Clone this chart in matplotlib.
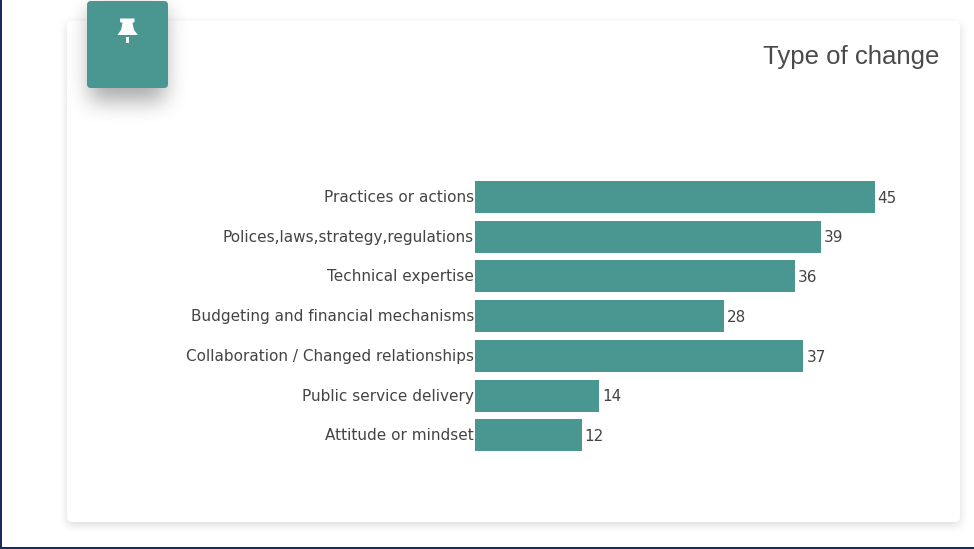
import numpy as np
import matplotlib
matplotlib.use("Agg")
import matplotlib.pyplot as plt
from matplotlib.patches import FancyBboxPatch, Rectangle, Polygon
from matplotlib.transforms import ScaledTranslation

categories = ["Practices or actions", "Polices,laws,strategy,regulations", "Technical expertise",
              "Budgeting and financial mechanisms", "Collaboration / Changed relationships",
              "Public service delivery", "Attitude or mindset"]
values = [45, 39, 36, 28, 37, 14, 12]
title = "Type of change"
TEAL = "#499790"
W, H = 974, 549

fig = plt.figure(figsize=(W / 100, H / 100), dpi=100, facecolor="white")

# page decoration, in pixel coordinates
bg = fig.add_axes([0, 0, 1, 1], zorder=0)
bg.set_xlim(0, W); bg.set_ylim(H, 0); bg.axis("off")

def rounded(x0, y0, x1, y1, r, **kw):
    p = FancyBboxPatch((x0 + r, y0 + r), x1 - x0 - 2 * r, y1 - y0 - 2 * r,
                       boxstyle=f"round,pad={r},rounding_size={r}", linewidth=0, **kw)
    bg.add_patch(p)

def shadow(x0, y0, x1, y1, blur, alpha, zorder):
    m = np.zeros((H, W))
    m[int(y0):int(y1), int(x0):int(x1)] = 1.0
    k = np.ones(blur) / blur
    for _ in range(3):
        pad = blur
        m = np.pad(m, pad, mode="constant")
        m = np.apply_along_axis(lambda r: np.convolve(r, k, mode="same"), 0, m)
        m = np.apply_along_axis(lambda r: np.convolve(r, k, mode="same"), 1, m)
        m = m[pad:-pad, pad:-pad]
    rgba = np.zeros((H, W, 4))
    rgba[..., 3] = m * alpha
    bg.imshow(rgba, extent=(0, W, H, 0), zorder=zorder, interpolation="nearest", aspect="auto")

# card shadow + card
shadow(67, 24, 960, 525, 9, 0.15, 1)
rounded(67, 21, 960, 522, 5, facecolor="white", zorder=2)

# pin badge shadow + badge
shadow(90, 8, 165, 101, 21, 0.34, 3)
rounded(87, 1, 168, 88, 4, facecolor=TEAL, zorder=4)
pin = [(120, 18.5), (134.5, 18.5), (134.5, 22), (132.5, 23), (134, 30), (138, 35), (117.5, 35),
       (121, 30), (122.5, 23), (120, 22)]
bg.add_patch(Polygon(pin, closed=True, facecolor="white", edgecolor="none", zorder=5))
bg.add_patch(Rectangle((126, 37), 3, 6, facecolor="white", edgecolor="none", zorder=5))

# outer frame (left and bottom navy edges)
bg.add_patch(Rectangle((0, 0), 2, H, facecolor="#1b2a5e", edgecolor="none", zorder=6))
bg.add_patch(Rectangle((0, H - 2), W, 2, facecolor="#1b2a5e", edgecolor="none", zorder=6))
bg.set_xlim(0, W); bg.set_ylim(H, 0)

# chart
x0, x1, y0, y1 = 475.0, 874.5, 177.1, 455.3
ax = fig.add_axes([x0 / W, 1 - y1 / H, (x1 - x0) / W, (y1 - y0) / H], zorder=2)
ax.patch.set_alpha(0)
ypos = list(range(len(categories)))
ax.barh(ypos, values, height=0.805, color=TEAL, linewidth=0)
ax.set_xlim(0, 45)
ax.set_ylim(len(categories) - 0.5, -0.5)
ax.set_yticks(ypos, categories)
ax.set_xticks([])
ax.tick_params(axis="y", length=0, pad=0.8, labelsize=11, labelcolor="#444444")
up = ScaledTranslation(0, 1 / 100, fig.dpi_scale_trans)
for lab in ax.get_yticklabels():
    lab.set_transform(lab.get_transform() + up)
for s in ax.spines.values():
    s.set_visible(False)
for y, v in zip(ypos, values):
    ax.annotate(str(v), (v, y), xytext=(2.2, -0.8), textcoords="offset points", va="center", ha="left",
                fontsize=11, color="#444444", annotation_clip=False)

fig.text(939 / W, 1 - 57 / H, title, ha="right", va="center", fontsize=18.5,
         family="Liberation Sans", color="#4a4a4a", zorder=5)

fig.savefig("out.png", dpi=100)
